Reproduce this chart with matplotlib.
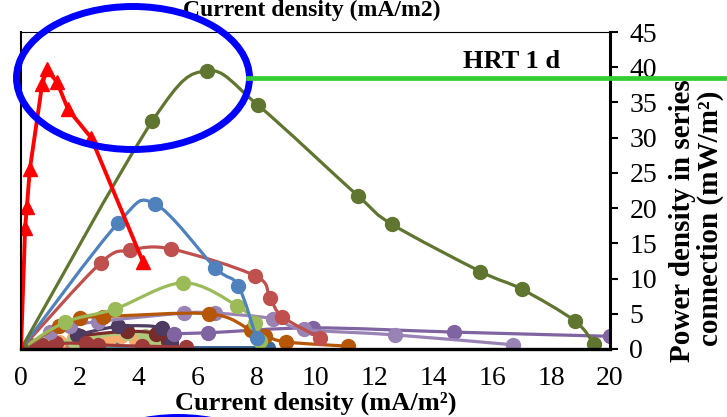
import numpy as np
import matplotlib
matplotlib.use('Agg')
import matplotlib.pyplot as plt
from matplotlib.path import Path
from matplotlib.patches import PathPatch, Ellipse
from matplotlib.lines import Line2D

plt.rcParams['font.family'] = ['Liberation Serif', 'DejaVu Serif']

# ---------------- data ----------------
# red triangles (peak series)
red_x = [0, 0.14, 0.2, 0.3, 0.72, 0.88, 1.22, 1.6, 2.38, 4.14]
red_y = [0, 17.2, 20.2, 25.5, 37.6, 39.7, 37.9, 34.0, 30.0, 12.4]

olive_x = [0, 4.45, 6.3, 8.05, 11.45, 12.6, 15.6, 17.0, 18.8, 19.46]
olive_y = [0, 32.3, 39.5, 34.6, 21.7, 17.7, 11.0, 8.5, 4.0, 0.7]

blue_x = [0, 3.3, 4.55, 6.6, 7.37, 8.0]
blue_y = [0, 17.9, 20.6, 11.5, 9.0, 1.5]

rose_x = [0, 2.7, 3.7, 5.1, 7.95, 8.45, 8.87, 10.15]
rose_y = [0, 12.2, 14.0, 14.2, 10.4, 7.3, 4.6, 1.6]

lgreen_x = [0, 1.5, 3.2, 5.5, 7.35, 7.95, 8.1]
lgreen_y = [0, 3.8, 5.7, 9.4, 6.1, 3.7, 1.2]

orange_x = [0, 1.3, 2.0, 2.8, 6.4, 7.8, 8.3, 9.0, 11.1]
orange_y = [0, 3.3, 4.4, 4.6, 5.0, 2.7, 1.9, 1.0, 0.4]

lpurple_x = [0, 1.0, 1.66, 2.6, 5.55, 6.6, 8.57, 9.6, 12.7, 16.7]
lpurple_y = [0, 2.4, 3.2, 3.9, 5.1, 5.1, 4.3, 2.8, 2.0, 0.6]

purple_x = [5.2, 6.35, 9.9, 14.7, 20.0]
purple_y = [2.2, 2.3, 3.0, 2.4, 1.8]

dpurple_x = [1.9, 3.3, 4.8, 5.1]
dpurple_y = [2.0, 3.2, 3.0, 0.9]

dred2_x = [2.0, 3.6, 4.6, 5.0]
dred2_y = [1.9, 2.5, 2.2, 1.2]

peach_x = [0, 0.8, 1.3, 1.8, 2.4, 3.0, 3.4, 3.9, 4.3]
peach_y = [0, 0.6, 1.0, 1.5, 1.2, 1.4, 1.9, 1.3, 0.6]

aqua_x = [0, 1.0, 2.0, 3.0, 4.2, 4.7]
aqua_y = [0, 0.3, 0.2, 0.4, 0.3, 0.4]

pink_x = [0, 0.6, 1.2, 2.0, 2.6]
pink_y = [0, 0.5, 0.3, 0.4, 0.2]

lgreen2_x = [0, 0.9, 1.8, 3.6, 4.2, 4.6, 5.1]
lgreen2_y = [0, 0.8, 1.2, 2.3, 1.9, 1.3, 0.8]

dblue_x = [0, 1.6, 2.6, 3.2, 8.4]
dblue_y = [0, 0.2, 0.3, 0.2, 0.2]

dred_x = [0, 0.3, 0.7, 1.2, 2.2, 2.6, 4.1, 5.6]
dred_y = [0, 0.5, 0.6, 0.8, 0.8, 0.6, 0.4, 0.3]

xticks = [0, 2, 4, 6, 8, 10, 12, 14, 16, 18, 20]
yticks = [0, 5, 10, 15, 20, 25, 30, 35, 40, 45]

# ---------------- drawing ----------------
W, H = 727, 417
fig = plt.figure(figsize=(W / 100, H / 100), dpi=100)
ax = fig.add_axes([21 / W, 1 - 349 / H, (610 - 21) / W, (349 - 32) / H])


def smooth(ax, xs, ys, color, lw, z):
    pts = np.column_stack([xs, ys]).astype(float)
    n = len(pts)
    verts = [pts[0]]
    codes = [Path.MOVETO]
    for i in range(n - 1):
        p0 = pts[i - 1] if i > 0 else pts[i]
        p1 = pts[i]
        p2 = pts[i + 1]
        p3 = pts[i + 2] if i + 2 < n else pts[i + 1]
        c1 = p1 + (p2 - p0) / 6.0
        c2 = p2 - (p3 - p1) / 6.0
        verts += [c1, c2, p2]
        codes += [Path.CURVE4] * 3
    ax.add_patch(PathPatch(Path(verts, codes), facecolor='none', edgecolor=color,
                           lw=lw, zorder=z, capstyle='round', joinstyle='round'))


def series(xs, ys, color, z, ms=10, lw=2.3):
    smooth(ax, xs, ys, color, lw, z)
    ax.plot(xs, ys, 'o', color=color, ms=ms, mec=color, zorder=z + 0.1)


series(dblue_x, dblue_y, '#3E6A9A', 2)
series(aqua_x, aqua_y, '#4BACC6', 2.2)
series(pink_x, pink_y, '#CD7371', 2.4)
series(peach_x, peach_y, '#F9AB6B', 2.6)
series(lgreen2_x, lgreen2_y, '#AFC97A', 2.8)
series(dred2_x, dred2_y, '#772C2A', 3.0)
series(dpurple_x, dpurple_y, '#4D3B62', 3.2)
series(dred_x, dred_y, '#9E3B3A', 3.4)
series(purple_x, purple_y, '#8064A2', 3.6)
series(lpurple_x, lpurple_y, '#9983B5', 3.8)
series(orange_x, orange_y, '#B65708', 4.0)
series(lgreen_x, lgreen_y, '#9BBB59', 4.2)
series(rose_x, rose_y, '#C0504D', 4.4)
series(blue_x, blue_y, '#4F81BD', 4.6)
series(olive_x, olive_y, '#5F7530', 4.8)

ax.plot(red_x, red_y, '-^', color='#FF0000', lw=2.8, ms=10, mec='#FF0000', zorder=6)

ax.set_xlim(0, 20)
ax.set_ylim(0, 45)
ax.set_xticks(xticks)
ax.set_yticks(yticks)
ax.yaxis.tick_right()
ax.tick_params(axis='x', length=0, pad=12, labelsize=20)
ax.tick_params(axis='y', direction='out', length=6, width=1.5, pad=8, labelsize=20)
ax.spines['bottom'].set_linewidth(2.4)
ax.spines['right'].set_linewidth(2.2)
ax.spines['left'].set_linewidth(1.5)
ax.spines['top'].set_linewidth(0.8)
for s in ax.spines.values():
    s.set_zorder(7)
ax.set_facecolor('white')

# texts
fig.text(312 / W, 1 - 16 / H, 'Current density (mA/m2)', ha='center', va='baseline',
         fontsize=17, fontweight='bold')
fig.text(316 / W, 1 - 410 / H, 'Current density (mA/m²)', ha='center', va='baseline',
         fontsize=19, fontweight='bold')
fig.text(512 / W, 1 - 68 / H, 'HRT 1 d', ha='center', va='baseline',
         fontsize=19, fontweight='bold')
fig.text(683 / W, 1 - 221 / H, 'Power density in series', rotation=90, ha='center', va='center',
         fontsize=21, fontweight='bold')
fig.text(710 / W, 1 - 218 / H, 'connection (mW/m²)', rotation=90, ha='center', va='center',
         fontsize=21, fontweight='bold')

# annotations: ellipses and green line
fig.add_artist(Ellipse((133 / W, 1 - 78 / H), 233 / W, 143 / H, transform=fig.transFigure,
                       facecolor='none', edgecolor='#0000FF', lw=5, zorder=10))
fig.add_artist(Ellipse((178 / W, 1 - 489 / H), 233 / W, 143 / H, transform=fig.transFigure,
                       facecolor='none', edgecolor='#0000FF', lw=5, zorder=10))
fig.add_artist(Line2D([248 / W, 1.0], [1 - 78 / H, 1 - 78 / H], transform=fig.transFigure,
                      color='#33CC33', lw=3.4, zorder=10))

fig.savefig('out.png', dpi=100)
